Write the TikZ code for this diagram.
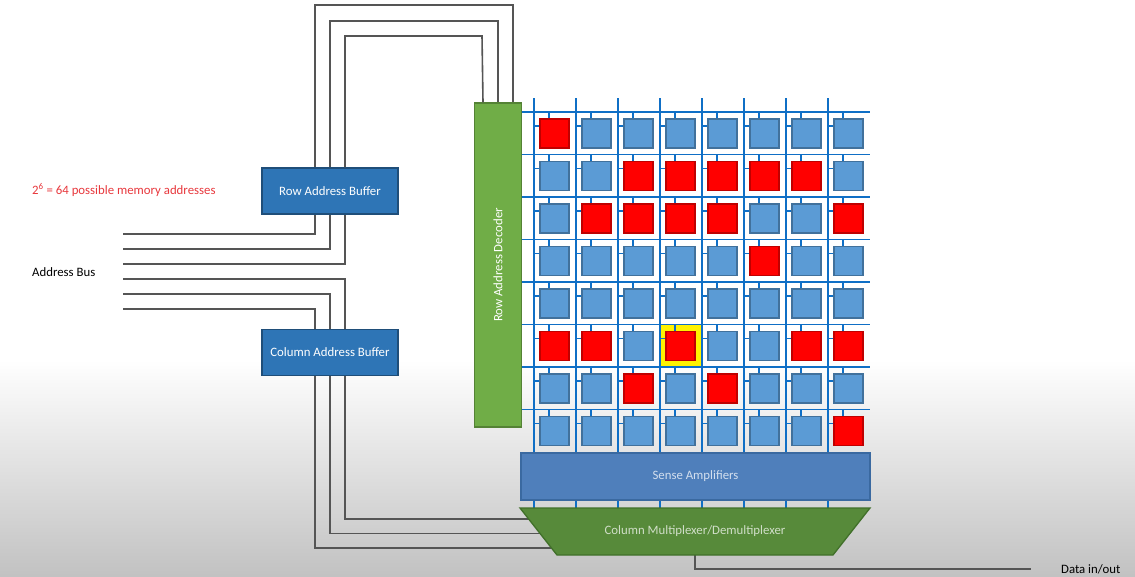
\documentclass[tikz,border=0pt]{standalone}
\usepackage{fontspec}
\setmainfont{Carlito}

\definecolor{bufblue}{HTML}{2E75B6}
\definecolor{bufedge}{HTML}{1F4E79}
\definecolor{decgreen}{HTML}{70AD47}
\definecolor{decedge}{HTML}{548235}
\definecolor{senseblue}{HTML}{4F7FBB}
\definecolor{senseedge}{HTML}{3A69A0}
\definecolor{muxgreen}{HTML}{578A3A}
\definecolor{muxedge}{HTML}{41702A}
\definecolor{wireblue}{HTML}{0F6FC6}
\definecolor{fillB}{HTML}{5B9BD5}
\definecolor{lineB}{HTML}{41719C}
\definecolor{fillR}{HTML}{FF0000}
\definecolor{lineR}{HTML}{C00000}
\definecolor{busgray}{HTML}{555555}
\definecolor{notered}{HTML}{E8383D}

\pgfdeclarelayer{back}
\pgfsetlayers{back,main}

\begin{document}
\begin{tikzpicture}[x=1pt,y=-1pt,
    font=\fontsize{12.8}{15}\selectfont,
    block/.style={draw=bufedge,fill=bufblue,line width=1.3pt,text=white,inner sep=0pt,minimum width=136pt,minimum height=46pt},
    bus/.style={draw=busgray,line width=1.6pt},
    wire/.style={draw=wireblue,line width=1.5pt},
    cell/.style={line width=1.2pt,inner sep=0pt,minimum size=29pt}]

            \useasboundingbox (0,0) rectangle (1135,576);
            \begin{pgfonlayer}{back}
            \fill[white] (0,0) rectangle (1135,360);
            \shade[top color=white,bottom color=black!24] (0,360) rectangle (1135,576);
            \end{pgfonlayer}

            \node[text=notered,anchor=west,inner sep=0pt] (note) at (32,190) {2\textsuperscript{6} = 64 possible memory addresses};
            \node[anchor=west,inner sep=0pt] (abus) at (32,272) {Address Bus};

            \node[block] (rab) at (330,191) {Row Address Buffer};
            \node[block] (cab) at (330,352.5) {Column Address Buffer};
            \node[draw=decedge,fill=decgreen,line width=1.3pt,text=white,inner sep=0pt,minimum width=324pt,minimum height=47pt,rotate=90] (dec) at (498,265) {Row Address Decoder};

            % address bus
            \coordinate (b1) at (123,234);
            \coordinate (b2) at (123,249);
            \coordinate (b3) at (123,264);
            \coordinate (b4) at (123,279);
            \coordinate (b5) at (123,294);
            \coordinate (b6) at (123,309);

            \draw[bus] (b1) -| ([xshift=-15pt]rab.south);
            \draw[bus] (b2) -| (rab.south);
            \draw[bus] (b3) -| ([xshift=15pt]rab.south);
            \draw[bus] (b4) -| ([xshift=15pt]cab.north);
            \draw[bus] (b5) -| (cab.north);
            \draw[bus] (b6) -| ([xshift=-15pt]cab.north);

            \draw[bus] ([xshift=-15pt]rab.north) |- (513,5) -- ([xshift=15pt]dec.east);
            \draw[bus] (rab.north) |- (498,21) -- (dec.east);
            \draw[bus] ([xshift=15pt]rab.north) |- (482,36) -- ([xshift=-15pt]dec.east);

            % memory array
            \fill[yellow] (660,324.5) rectangle (702,367);
            \foreach \y in {112,154.5,...,410} \draw[wire] (521.5,\y) -- (870,\y);
            \foreach \x in {534,576,...,828} \draw[wire] (\x,98) -- (\x,508);

            \foreach \row [count=\r from 0] in {{R,B,B,B,B,B,B,B},{B,B,R,R,R,R,R,B},{B,R,R,R,R,B,B,R},{B,B,B,B,B,R,B,B},{B,B,B,B,B,B,B,B},{R,R,B,R,B,B,R,R},{B,B,R,B,R,B,B,B},{B,B,B,B,B,B,B,R}}
              \foreach \s [count=\c from 0] in \row {
                \node[cell,fill=fill\s,draw=line\s] (c\r\c) at (554.5+42*\c,133.5+42.5*\r) {};
                \draw[wire] ([xshift=-5.5pt]c\r\c.north) -- ++(0,-7);
                \draw[wire] ([yshift=7.5pt]c\r\c.west) -- ++(-6,0);
              }

            \node[draw=senseedge,fill=senseblue,line width=1.3pt,text=white!75!senseblue,inner sep=0pt,minimum width=349pt,minimum height=47pt] (sa) at (695.5,476.5) {Sense Amplifiers};

            \draw[draw=muxedge,fill=muxgreen,line width=1.3pt] (520,508) -- (870,508) -- (833,555) -- (557,555) -- cycle;
            \node[text=white!72!muxgreen,inner sep=0pt] (mux) at (695,531.5) {Column Multiplexer/Demultiplexer};
            \node[anchor=west,inner sep=0pt] (dio) at (1061,569) {Data in/out};

            \begin{pgfonlayer}{back}
            \draw[bus] ([xshift=15pt]cab.south) |- ([yshift=12.5pt]mux.center);
            \draw[bus] (cab.south) |- ([yshift=-2pt]mux.center);
            \draw[bus] ([xshift=-15pt]cab.south) |- ([yshift=-16.5pt]mux.center);
            \draw[bus] (mux.south) |- ([xshift=-30pt]dio.west);
            \end{pgfonlayer}

         \end{tikzpicture}
\end{document}
